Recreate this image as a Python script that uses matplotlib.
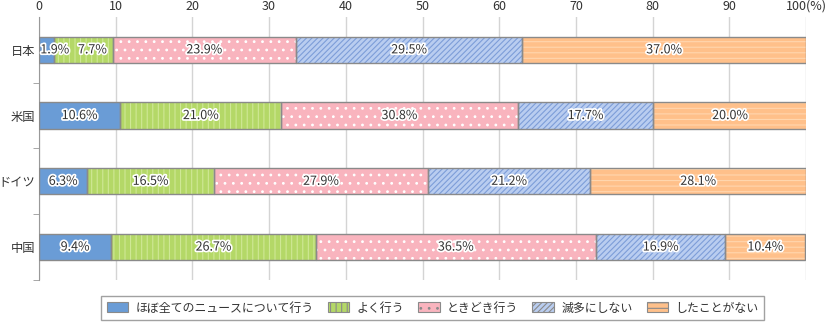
import matplotlib.pyplot as plt
import matplotlib.patheffects as pe
from matplotlib.patches import Patch

plt.rcParams['font.family'] = ['Noto Sans CJK JP', 'DejaVu Sans']
plt.rcParams['hatch.linewidth'] = 0.8

countries = ["日本", "米国", "ドイツ", "中国"]
series = ["ほぼ全てのニュースについて行う", "よく行う", "ときどき行う", "滅多にしない", "したことがない"]
almost_all = [1.9, 10.6, 6.3, 9.4]
often = [7.7, 21.0, 16.5, 26.7]
sometimes = [23.9, 30.8, 27.9, 36.5]
rarely = [29.5, 17.7, 21.2, 16.9]
never = [37.0, 20.0, 28.1, 10.4]
xticks = [0, 10, 20, 30, 40, 50, 60, 70, 80, 90, 100]
xtick_labels = ["0", "10", "20", "30", "40", "50", "60", "70", "80", "90", "100(%)"]

# face colour, hatch pattern, hatch colour
styles = [
    ("#6a9cd6", None, None),
    ("#b4d867", "|||", "#cfe896"),
    ("#f9b4be", "..", "#ffffff"),
    ("#b9cdf0", "//////", "#7d9dd8"),
    ("#ffc08a", "---", "#ffd6ae"),
]

fig = plt.figure(figsize=(8.35, 3.27), dpi=100)
ax = fig.add_axes([0.0467, 0.144, 0.9186, 0.804])

values = [almost_all, often, sometimes, rarely, never]
y = list(range(len(countries)))
left = [0.0] * len(countries)
label_w = 3.7          # rough width of a "00.0%" label in data units
prev_right = [-1.0] * len(countries)
for vals, (fc, hatch, hc) in zip(values, styles):
    ax.barh(y, vals, left=left, height=0.4, color=fc, linewidth=0, zorder=2)
    if hatch:
        ax.barh(y, vals, left=left, height=0.4, color="none", edgecolor=hc,
                hatch=hatch, linewidth=0, zorder=3)
    ax.barh(y, vals, left=left, height=0.4, color="none", edgecolor="#8a8a8a",
            linewidth=1.0, zorder=4)
    for i, (yi, l, v) in enumerate(zip(y, left, vals)):
        # push labels of thin segments right so they stay readable
        xc = max(l + v / 2, prev_right[i] + label_w / 2 + 1.2)
        prev_right[i] = xc + label_w / 2
        ax.text(xc, yi, f"{v:.1f}%", ha="center", va="center",
                fontsize=9, color="#333333", zorder=5,
                path_effects=[pe.withStroke(linewidth=2.5, foreground="white")])
    left = [a + b for a, b in zip(left, vals)]

ax.set_xlim(0, 100)
ax.set_ylim(3.5, -0.5)
ax.set_xticks(xticks)
ax.set_xticklabels(xtick_labels)
ax.xaxis.tick_top()
ax.tick_params(axis="x", length=0, labelsize=9, labelcolor="#333333", pad=3)
ax.set_yticks(y)
ax.set_yticklabels(countries)
ax.tick_params(axis="y", which="major", length=0, labelsize=8.8,
               labelcolor="#333333", pad=2.5)
ax.set_yticks([0.5, 1.5, 2.5, 3.5], minor=True)
ax.tick_params(axis="y", which="minor", length=4, color="#999999")
ax.grid(axis="x", color="#d4d4d4", linewidth=1.0, zorder=0)
ax.set_axisbelow(True)
for s in ["top", "right", "bottom"]:
    ax.spines[s].set_visible(False)
ax.spines["left"].set_color("#999999")

handles = [Patch(facecolor=fc, edgecolor="#8a8a8a", hatch=h, linewidth=0.8)
           for fc, h, hc in styles]
leg = fig.legend(handles, series, loc="center", bbox_to_anchor=(0.518, 0.058),
                 ncol=5, fontsize=8.6, frameon=True, fancybox=False,
                 handlelength=1.8, handleheight=0.9, columnspacing=1.2,
                 handletextpad=0.6, borderpad=0.45)
leg.get_frame().set_edgecolor("#8a8a8a")
leg.get_frame().set_linewidth(1.0)
for t in leg.get_texts():
    t.set_color("#333333")

fig.savefig("out.png", dpi=100)
